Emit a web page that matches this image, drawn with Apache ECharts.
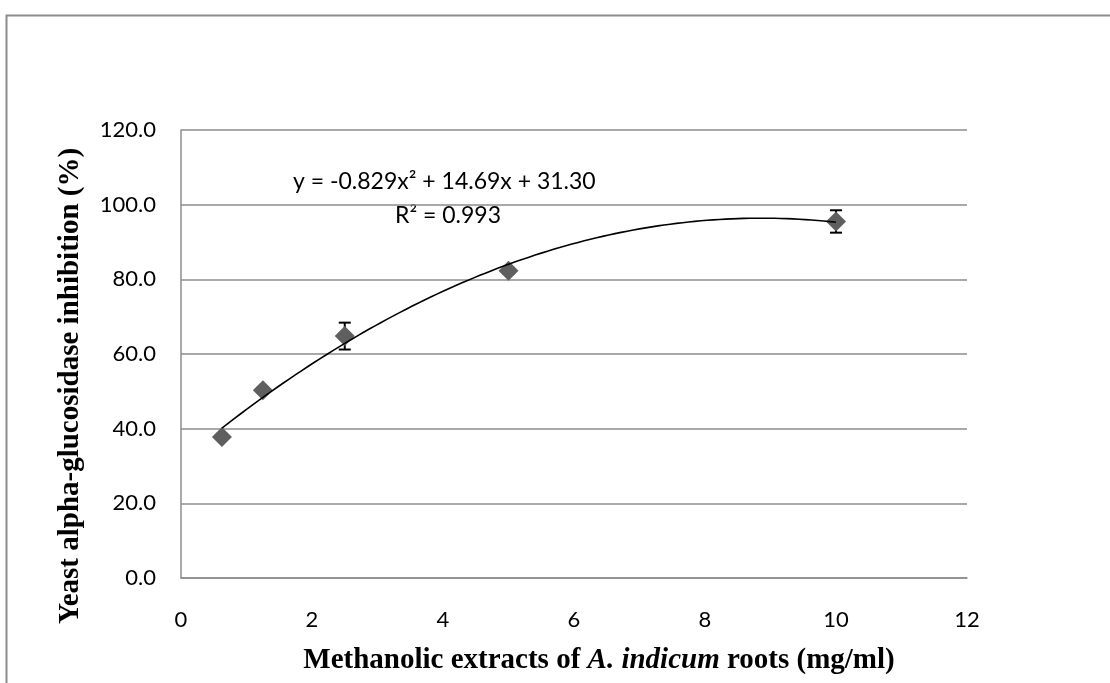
<!DOCTYPE html>
<html>
<head>
<meta charset="utf-8">
<script src="https://cdn.jsdelivr.net/npm/echarts@6/dist/echarts.min.js"></script>
<style>html,body{margin:0;padding:0;background:#fff}#c{width:1110px;height:683px}</style>
</head>
<body>
<div id="c"></div>
<script>
// Data
const concentrations = [0.625, 1.25, 2.5, 5, 10];
const inhibition = [37.8, 50.3, 64.8, 82.3, 95.5];
const errors = [0.8, 0.8, 3.6, 0.8, 3.0];
const trendCoefficients = [-0.829, 14.69, 31.30]; // a, b, c of y = a x^2 + b x + c
const trendRange = [0.625, 10];
const yTicks = ['0.0', '20.0', '40.0', '60.0', '80.0', '100.0', '120.0'];
const equationText = 'y = -0.829x² + 14.69x + 31.30';
const r2Text = 'R² = 0.993';
const xTitleParts = ['Methanolic extracts of ', 'A. indicum', ' roots (mg/ml)'];
const yTitle = 'Yeast alpha-glucosidase inhibition (%)';

const points = concentrations.map((x, i) => [x, inhibition[i]]);
const errData = concentrations.map((x, i) => [x, inhibition[i] - errors[i], inhibition[i] + errors[i]]);
const trend = [];
for (let k = 0; k <= 100; k++) {
  const x = trendRange[0] + (trendRange[1] - trendRange[0]) * k / 100;
  trend.push([x, trendCoefficients[0] * x * x + trendCoefficients[1] * x + trendCoefficients[2]]);
}

const chart = echarts.init(document.getElementById('c'), null, {renderer: 'canvas'});
const tickFont = 'Lato, "Open Sans", sans-serif';
const serif = '"Liberation Serif", "Times New Roman", serif';
chart.setOption({
  animation: false,
  backgroundColor: '#fff',
  grid: {left: 181, right: 143, top: 130, bottom: 105},
  xAxis: {
    type: 'value', min: 0, max: 12, interval: 2,
    axisLine: {show: true, lineStyle: {color: '#8c8c8c', width: 1.5}},
    axisTick: {show: false},
    splitLine: {show: false},
    axisLabel: {color: '#000', fontSize: 22, fontFamily: tickFont, margin: 31}
  },
  yAxis: {
    type: 'value', min: 0, max: 120, interval: 20,
    axisLine: {show: true, lineStyle: {color: '#8c8c8c', width: 1.5}},
    axisTick: {show: false},
    splitLine: {show: true, lineStyle: {color: '#8c8c8c', width: 1.5}},
    axisLabel: {color: '#000', fontSize: 22, fontFamily: tickFont, margin: 25,
      formatter: (v) => yTicks[Math.round(v / 20)]}
  },
  series: [
    {
      type: 'custom', data: errData, z: 1,
      renderItem: function (params, api) {
        const x = api.value(0);
        const lo = api.coord([x, api.value(1)]);
        const hi = api.coord([x, api.value(2)]);
        const hw = 6;
        const style = {stroke: '#000', lineWidth: 2};
        return {
          type: 'group',
          children: [
            {type: 'line', shape: {x1: lo[0], y1: lo[1], x2: hi[0], y2: hi[1]}, style},
            {type: 'line', shape: {x1: lo[0] - hw, y1: lo[1], x2: lo[0] + hw, y2: lo[1]}, style},
            {type: 'line', shape: {x1: hi[0] - hw, y1: hi[1], x2: hi[0] + hw, y2: hi[1]}, style}
          ]
        };
      }
    },
    {
      type: 'scatter', data: points, symbol: 'diamond', symbolSize: 20,
      itemStyle: {color: '#5f5f5f', opacity: 1}, z: 2
    },
    {
      type: 'line', data: trend, showSymbol: false, smooth: false,
      lineStyle: {color: '#000', width: 1.6}, z: 3
    }
  ],
  graphic: [
    {type: 'rect', left: 4, top: 13, silent: true, z: -10,
      shape: {width: 1300, height: 900}, style: {fill: 'none', stroke: '#8c8c8c', lineWidth: 2}},
    {type: 'text', x: 293, y: 182, style: {text: equationText, font: '23px Lato, "Open Sans", sans-serif', fill: '#000', verticalAlign: 'middle'}},
    {type: 'text', x: 395, y: 216, style: {text: r2Text, font: '23px Lato, "Open Sans", sans-serif', fill: '#000', verticalAlign: 'middle'}},
    {type: 'text', x: 599, y: 661, style: {
      text: '{b|' + xTitleParts[0] + '}{i|' + xTitleParts[1] + '}{b|' + xTitleParts[2] + '}',
      align: 'center', verticalAlign: 'middle',
      rich: {
        b: {fontFamily: serif, fontWeight: 'bold', fontSize: 29, fill: '#000'},
        i: {fontFamily: serif, fontWeight: 'bold', fontStyle: 'italic', fontSize: 29, fill: '#000'}
      }
    }},
    {type: 'text', x: 71, y: 386, rotation: Math.PI / 2, style: {
      text: yTitle, align: 'center', verticalAlign: 'middle',
      font: 'bold 29px "Liberation Serif", "Times New Roman", serif', fill: '#000'
    }}
  ]
});
</script>
</body>
</html>
